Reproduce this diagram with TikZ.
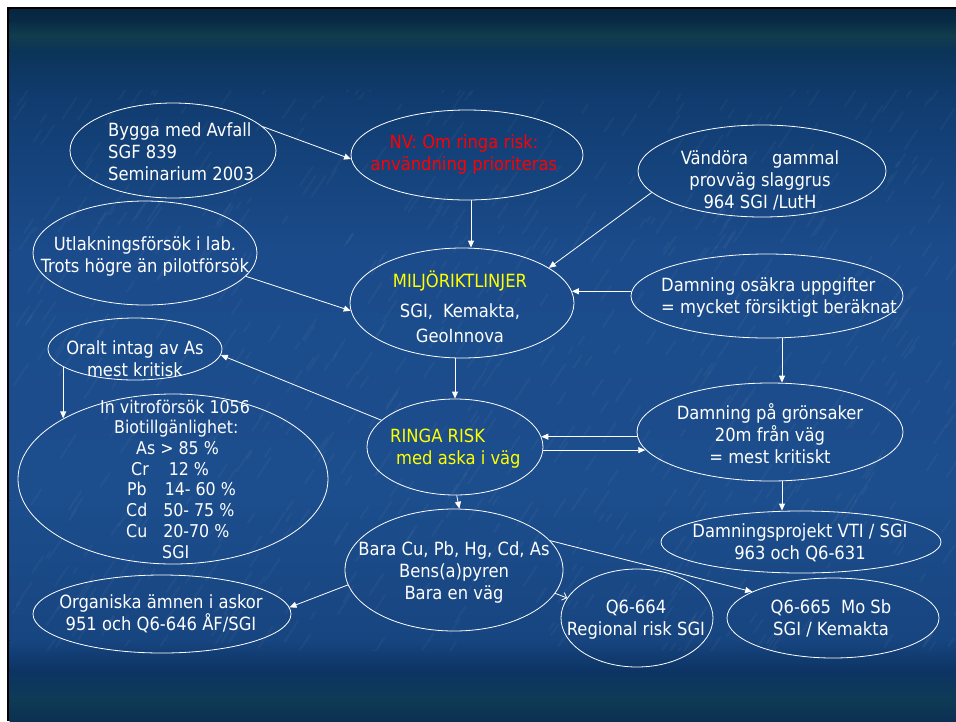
\documentclass[tikz,border=0pt]{standalone}
\usepackage{fontspec}
\IfFontExistsTF{DejaVu Sans Condensed}{\setmainfont{DejaVu Sans Condensed}}{\setmainfont{Liberation Sans}}
\usetikzlibrary{arrows.meta,shapes.geometric,calc}
\definecolor{nvred}{HTML}{FF0000}
\definecolor{yel}{HTML}{FFFF00}
\definecolor{b0}{HTML}{072540}
\definecolor{b1}{HTML}{082A45}
\definecolor{b2}{HTML}{113D4C}
\definecolor{b3}{HTML}{0C3458}
\definecolor{b4}{HTML}{103C70}
\definecolor{b5}{HTML}{1B4B8A}
\definecolor{b6}{HTML}{1C4D8C}
\definecolor{b7}{HTML}{174580}
\definecolor{b8}{HTML}{0D3464}
\definecolor{b9}{HTML}{0E3A55}
\definecolor{b10}{HTML}{0C3052}
\tikzset{
  ell/.style={ellipse, draw=white, line width=0.8pt, inner sep=0pt},
  txt/.style={text=white, inner sep=0pt, align=center, font=\fontsize{18.2}{22}\selectfont},
  arr/.style={draw=white, line width=0.8pt, -{Triangle[length=7pt,width=6pt]}},
  arrb/.style={draw=white, line width=0.8pt, -{Straight Barb[length=4pt,width=8pt]}},
  streak/.style={white, opacity=0.035, line width=2pt, line cap=round}
}
\begin{document}
\begin{tikzpicture}[x=1pt,y=-1pt]
\useasboundingbox (0,0) rectangle (956,721);
% frame and background
\fill[white] (0,0) rectangle (956,721);
\fill[black] (7,7) rectangle (956,721);
\fill[top color=b0, bottom color=b1] (9.5,9.5) rectangle (956,20.5);
\fill[top color=b1, bottom color=b2] (9.5,20) rectangle (956,35.5);
\fill[top color=b2, bottom color=b3] (9.5,35) rectangle (956,50.5);
\fill[top color=b3, bottom color=b4] (9.5,50) rectangle (956,100.5);
\fill[top color=b4, bottom color=b5] (9.5,100) rectangle (956,250.5);
\fill[top color=b5, bottom color=b6] (9.5,250) rectangle (956,500.5);
\fill[top color=b6, bottom color=b7] (9.5,500) rectangle (956,640.5);
\fill[top color=b7, bottom color=b8] (9.5,640) rectangle (956,670.5);
\fill[top color=b8, bottom color=b9] (9.5,670) rectangle (956,700.5);
\fill[top color=b9, bottom color=b10] (9.5,700) rectangle (956,721);
\begin{scope}
\clip (9.5,90) rectangle (956,650);
\pgfmathsetseed{4711}
\foreach \i in {1,...,700} {
  \pgfmathsetmacro{\xx}{10+rnd*946}
  \pgfmathsetmacro{\yy}{90+rnd*570}
  \pgfmathsetmacro{\ll}{6+rnd*22}
  \draw[streak] (\xx,\yy) -- ++(0.55*\ll,-0.83*\ll);
}
\end{scope}

% ellipses
\node[ell, minimum width=206pt, minimum height=95pt] (bygga) at (173,150.5) {};
\node[ell, minimum width=232pt, minimum height=90pt] (nv) at (467,155) {};
\node[ell, minimum width=248pt, minimum height=92pt] (vand) at (762,171) {};
\node[ell, minimum width=224pt, minimum height=104pt] (utl) at (145,253) {};
\node[ell, minimum width=224pt, minimum height=110pt] (milj) at (462,303) {};
\node[ell, minimum width=272pt, minimum height=84pt] (dam1) at (767,296) {};
\node[ell, minimum width=174pt, minimum height=62pt] (oralt) at (135,349) {};
\node[ell, minimum width=176pt, minimum height=96pt] (ringa) at (455,447) {};
\node[ell, minimum width=266pt, minimum height=98pt] (dam2) at (770,432) {};
\node[ell, minimum width=310pt, minimum height=170pt] (invitro) at (173,479) {};
\node[ell, minimum width=218pt, minimum height=122pt] (bara) at (454,570) {};
\node[ell, minimum width=280pt, minimum height=62pt] (damproj) at (801,542) {};
\node[ell, minimum width=258pt, minimum height=78pt] (org) at (162,614) {};
\node[ell, minimum width=152pt, minimum height=98pt] (q664) at (637,618) {};
\node[ell, minimum width=212pt, minimum height=80pt] (q665) at (833,618) {};

% texts
\node[txt, anchor=west, align=left] (byggaT) at (108,152) {Bygga med Avfall\\SGF 839\\Seminarium 2003};
\node[txt, text=nvred] (nvT) at (464,154) {NV: Om ringa risk:\\användning prioriteras};
\node[txt] (vandT) at (760,180) {Vändöra\hspace{24pt}gammal\\provväg slaggrus\\964 SGI /LutH};
\node[txt] (utlT) at (145,256) {Utlakningsförsök i lab.\\Trots högre än pilotförsök};
\node[txt] (miljT) at (460,307) {\textcolor{yel}{MILJÖRIKTLINJER}\\[8pt]SGI,\hspace{10pt}Kemakta,\\[3pt]GeoInnova};
\node[txt, anchor=west, align=left] (dam1T) at (661,297) {Damning osäkra uppgifter\\= mycket försiktigt beräknat};
\node[txt] (oraltT) at (135,359) {Oralt intag av As\\mest kritisk};
\node[txt, anchor=west, align=left, text=yel] (ringaT) at (390,449) {RINGA RISK\\\hspace*{6pt}med aska i väg};
\node[txt] (dam2T) at (770,434) {Damning på grönsaker\\20m från väg\\= mest kritiskt};
\node[txt, anchor=west, align=left, font=\fontsize{17.6}{20.7}\selectfont] (invT) at (100,479)
  {In vitroförsök 1056\\\hspace*{14pt}Biotillgänlighet:\\\hspace*{36pt}As > 85 \%\\\hspace*{31pt}Cr\hspace{20pt}12 \%\\\hspace*{27pt}Pb\hspace{18pt}14- 60 \%\\\hspace*{26pt}Cd\hspace{16pt}50- 75 \%\\\hspace*{26pt}Cu\hspace{16pt}20-70 \%\\\hspace*{62pt}SGI};
\node[txt] (baraT) at (454,572) {Bara Cu, Pb, Hg, Cd, As\\Bens(a)pyren\\Bara en väg};
\node[txt] (damprojT) at (800,543) {Damningsprojekt VTI / SGI\\963 och Q6-631};
\node[txt] (orgT) at (161,614) {Organiska ämnen i askor\\951 och Q6-646 ÅF/SGI};
\node[txt] (q664T) at (636,620) {Q6-664\\Regional risk SGI};
\node[txt] (q665T) at (831,618) {Q6-665\hspace{10pt}Mo Sb\\SGI / Kemakta};

% connectors
\draw[arr] (bygga.15) -- (nv.182);
\draw[arr] ([xshift=4pt]nv.south) -- ([xshift=4pt]nv.south |- milj.north);
\draw[arr] (vand.191) -- (milj.22);
\draw[arr] (utl.-13) -- (milj.184);
\draw[arr] (dam1.178) -- (dam1.178 -| milj.6);
\draw[arr] (ringa.north |- milj.south) -- (ringa.north);
\draw[arr] (ringa.160) -- (oralt.-4);
\draw[arr] (oralt.194) -- (oralt.194 |- invitro.151);
\draw[arr] ([xshift=15pt]dam1.south) -- ([xshift=15pt]dam1.south |- dam2.north);
\draw[arr] (dam2.182) -- (dam2.182 -| ringa.7);
\draw[arr] (ringa.-2) -- (ringa.-2 -| dam2.188);
\draw[arr] ([xshift=12pt]dam2.south) -- ([xshift=12pt]dam2.south |- damproj.north);
\draw[arr] (ringa.-88) -- (bara.85);
\draw[arr] (bara.17) -- (q665.162);
\draw[arrb] (bara.-13) -- (q664.164);
\draw[arr] (bara.188) -- (org.3);
\end{tikzpicture}
\end{document}
